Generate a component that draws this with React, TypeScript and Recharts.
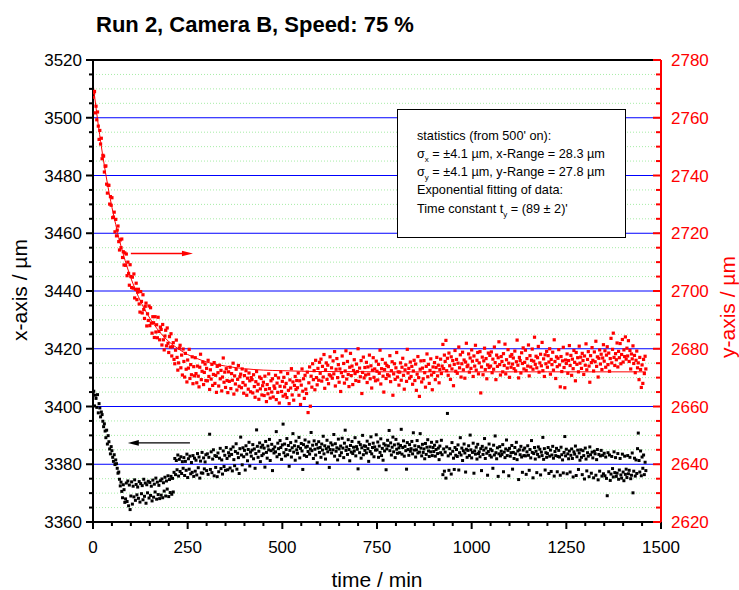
import React from 'react';
import { ComposedChart, Scatter, Line, XAxis, YAxis, ReferenceLine } from 'recharts';

const FONT = '"Liberation Sans", Arial, Helvetica, sans-serif';
const W = 739;
const H = 590;

// readings were logged every 2 minutes
const SAMPLE_STEP_MIN = 2;

// x position of the target (left axis), µm
const xPositionUm = [
  3404.6, 3405.3, 3400.2, 3403.9, 3402.8, 3399.7, 3404.1, 3397.8, 3401.0, 3399.5, 3396.4, 3398.1, 3397.2, 3394.9, 3393.0,
  3394.0, 3391.5, 3389.2, 3391.8, 3387.0, 3389.9, 3387.8, 3385.3, 3383.6, 3386.1, 3384.7, 3382.4, 3381.0, 3383.3, 3379.9,
  3381.5, 3380.2, 3378.6, 3376.9, 3377.3, 3374.8, 3372.5, 3373.8, 3370.6, 3368.4, 3372.9, 3371.2, 3366.8, 3368.0, 3373.5,
  3367.1, 3374.2, 3365.6, 3372.8, 3364.3, 3369.0, 3373.9, 3366.2, 3372.4, 3368.7, 3374.6, 3367.5, 3373.0, 3369.4, 3372.1,
  3368.2, 3374.0, 3366.9, 3373.3, 3369.8, 3372.6, 3367.7, 3374.8, 3368.9, 3373.5, 3366.5, 3372.9, 3370.1, 3374.1, 3368.3,
  3373.7, 3369.2, 3372.4, 3367.3, 3374.5, 3368.6, 3373.1, 3370.4, 3375.2, 3367.9, 3373.8, 3369.5, 3372.7, 3368.1, 3374.3,
  3369.3, 3374.9, 3368.4, 3373.6, 3370.7, 3375.5, 3369.0, 3374.2, 3371.4, 3376.0, 3368.8, 3374.7, 3370.2, 3375.8, 3369.6,
  3375.1, 3370.4, 3377.2, 3382.0, 3376.4, 3381.3, 3378.1, 3383.2, 3375.9, 3381.7, 3377.5, 3382.6, 3376.8, 3380.9, 3378.6,
  3382.3, 3376.1, 3381.0, 3377.9, 3383.5, 3375.4, 3381.9, 3378.3, 3382.8, 3376.7, 3380.6, 3377.2, 3383.0, 3375.8, 3382.1,
  3377.6, 3381.4, 3376.3, 3383.7, 3378.8, 3382.5, 3375.2, 3381.1, 3377.0, 3384.1, 3376.9, 3382.2, 3378.4, 3380.8, 3383.3,
  3377.8, 3383.6, 3376.5, 3382.4, 3390.4, 3378.2, 3384.3, 3377.1, 3381.8, 3385.0, 3376.0, 3383.0, 3378.9, 3382.7, 3375.7,
  3383.9, 3377.4, 3382.1, 3385.5, 3378.5, 3381.5, 3376.6, 3384.6, 3379.2, 3383.1, 3377.9, 3385.8, 3382.0, 3378.1, 3384.0,
  3382.9, 3378.7, 3385.2, 3383.4, 3377.7, 3386.0, 3381.6, 3379.5, 3384.4, 3387.1, 3378.3, 3383.8, 3382.3, 3376.8, 3385.4,
  3389.4, 3383.2, 3379.8, 3385.7, 3382.6, 3384.8, 3378.0, 3386.4, 3383.5, 3381.2, 3385.1, 3387.6, 3379.4, 3384.2, 3382.8,
  3384.9, 3386.8, 3381.9, 3385.3, 3378.6, 3383.7, 3391.9, 3386.2, 3382.4, 3384.5, 3387.4, 3380.9, 3385.9, 3383.0, 3386.6,
  3383.6, 3385.6, 3379.0, 3387.9, 3384.1, 3382.1, 3386.3, 3385.0, 3388.6, 3381.3, 3384.7, 3386.9, 3377.8, 3385.2, 3383.9,
  3386.0, 3384.3, 3391.3, 3382.6, 3387.3, 3385.4, 3383.4, 3388.2, 3385.8, 3381.7, 3386.7, 3393.9, 3384.0, 3387.0, 3382.9,
  3385.1, 3388.9, 3383.3, 3386.5, 3379.3, 3384.8, 3387.5, 3382.5, 3385.7, 3390.6, 3384.2, 3386.4, 3381.4, 3388.0, 3385.0,
  3383.8, 3386.1, 3389.3, 3382.2, 3385.5, 3387.2, 3384.6, 3378.2, 3386.8, 3383.1, 3388.4, 3385.9, 3382.7, 3386.2, 3384.4,
  3387.7, 3383.5, 3385.3, 3391.0, 3384.7, 3386.6, 3382.0, 3388.1, 3385.2, 3383.2, 3386.9, 3380.5, 3385.6, 3387.8, 3384.1,
  3385.8, 3382.4, 3387.0, 3384.9, 3389.7, 3383.6, 3386.4, 3381.8, 3385.4, 3388.3, 3384.3, 3386.0, 3378.9, 3385.1, 3387.4,
  3383.9, 3386.7, 3385.0, 3390.3, 3382.8, 3387.1, 3384.5, 3385.7, 3381.5, 3388.7, 3385.3, 3383.0, 3386.3, 3384.0, 3389.0,
  3385.6, 3382.3, 3387.3, 3391.8, 3384.8, 3386.0, 3383.4, 3388.5, 3385.1, 3381.2, 3386.5, 3384.2, 3387.9, 3383.7, 3385.9,
  3384.6, 3389.2, 3382.9, 3386.1, 3385.2, 3378.4, 3387.6, 3384.0, 3386.8, 3382.1, 3385.7, 3390.0, 3383.3, 3386.4, 3384.8,
  3386.2, 3383.9, 3388.0, 3385.4, 3381.0, 3386.9, 3384.4, 3389.5, 3383.6, 3385.8, 3387.3, 3382.6, 3386.0, 3384.9, 3390.2,
  3385.0, 3387.7, 3382.4, 3386.3, 3384.1, 3388.8, 3383.0, 3385.5, 3381.4, 3387.1, 3384.6, 3386.6, 3378.1, 3385.3, 3388.3,
  3386.4, 3391.7, 3384.7, 3387.4, 3383.2, 3385.9, 3389.4, 3384.3, 3386.7, 3382.3, 3388.6, 3385.2, 3383.8, 3387.0, 3385.7,
  3384.0, 3386.5, 3392.1, 3383.5, 3385.8, 3388.1, 3382.8, 3386.2, 3384.7, 3378.3, 3387.5, 3385.1, 3383.1, 3386.8, 3384.5,
  3385.4, 3387.9, 3383.6, 3390.9, 3384.9, 3386.4, 3382.5, 3385.0, 3388.2, 3383.9, 3386.1, 3384.2, 3390.6, 3385.6, 3382.9,
  3386.9, 3384.1, 3385.3, 3381.9, 3387.2, 3383.4, 3385.9, 3388.5, 3384.6, 3382.7, 3386.0, 3384.3, 3387.6, 3383.0, 3385.8,
  3384.4, 3386.6, 3382.8, 3385.1, 3387.8, 3383.7, 3385.6, 3381.6, 3386.3, 3384.0, 3388.3, 3383.3, 3376.4, 3385.3, 3377.6,
  3384.2, 3375.2, 3386.0, 3397.6, 3382.9, 3377.9, 3385.4, 3383.6, 3376.6, 3387.5, 3384.5, 3382.1, 3378.2, 3385.8, 3383.1,
  3385.1, 3382.7, 3386.7, 3378.0, 3384.0, 3389.2, 3383.2, 3385.6, 3381.3, 3384.7, 3387.0, 3383.9, 3377.3, 3385.2, 3382.4,
  3384.8, 3386.4, 3383.0, 3390.1, 3385.0, 3382.2, 3384.1, 3387.3, 3376.9, 3384.6, 3383.5, 3385.9, 3381.8, 3386.9, 3383.7,
  3384.3, 3382.6, 3385.4, 3377.8, 3386.2, 3383.4, 3384.9, 3388.9, 3382.0, 3385.6, 3383.8, 3376.2, 3384.4, 3387.0, 3383.1,
  3385.2, 3382.5, 3384.7, 3378.6, 3386.6, 3383.2, 3389.8, 3384.0, 3381.9, 3385.7, 3375.8, 3383.6, 3386.1, 3382.9, 3384.5,
  3383.4, 3386.8, 3377.4, 3384.2, 3382.3, 3385.3, 3388.4, 3383.0, 3384.8, 3376.0, 3385.5, 3382.8, 3384.0, 3386.5, 3378.3,
  3384.1, 3382.0, 3385.8, 3383.6, 3387.6, 3381.6, 3384.6, 3374.7, 3385.0, 3383.3, 3386.2, 3382.5, 3377.2, 3384.9, 3383.0,
  3385.6, 3382.9, 3376.5, 3384.3, 3386.4, 3383.1, 3377.9, 3385.1, 3382.2, 3388.2, 3384.1, 3375.3, 3383.7, 3385.8, 3381.8,
  3384.5, 3377.1, 3383.4, 3386.0, 3382.6, 3385.2, 3376.3, 3384.2, 3383.0, 3389.3, 3381.7, 3385.4, 3378.0, 3384.0, 3382.4,
  3383.7, 3385.8, 3376.8, 3382.8, 3384.9, 3377.5, 3383.2, 3386.2, 3382.1, 3375.9, 3384.4, 3383.0, 3385.5, 3377.4, 3382.7,
  3384.8, 3382.5, 3376.2, 3385.9, 3383.3, 3381.5, 3377.0, 3384.1, 3389.6, 3382.9, 3385.2, 3376.7, 3383.6, 3381.9, 3384.6,
  3377.3, 3383.1, 3385.3, 3382.0, 3375.6, 3384.3, 3383.5, 3386.3, 3376.1, 3382.6, 3384.9, 3378.2, 3383.9, 3381.4, 3385.0,
  3382.4, 3376.4, 3384.7, 3383.0, 3374.9, 3385.6, 3381.8, 3377.7, 3384.0, 3382.8, 3375.7, 3386.0, 3383.3, 3376.9, 3384.2,
  3382.2, 3375.3, 3384.5, 3383.6, 3376.2, 3381.6, 3385.1, 3374.6, 3383.4, 3377.6, 3382.9, 3384.8, 3375.9, 3383.1, 3376.7,
  3383.8, 3376.0, 3382.5, 3375.1, 3369.1, 3384.0, 3377.4, 3383.2, 3374.4, 3376.6, 3382.7, 3378.5, 3375.6, 3384.3, 3377.1,
  3382.3, 3375.8, 3376.9, 3383.7, 3374.8, 3378.0, 3382.0, 3376.3, 3375.2, 3383.5, 3377.3, 3374.3, 3382.8, 3376.5, 3378.3,
  3375.4, 3383.0, 3376.7, 3377.9, 3382.4, 3375.0, 3376.2, 3383.9, 3370.1, 3377.6, 3382.1, 3375.9, 3381.5, 3376.8, 3385.4,
  3390.8, 3381.3, 3377.3, 3384.6, 3376.0, 3382.5, 3378.6, 3383.2, 3376.4, 3380.7, 3377.8,
];

// y position of the target (right axis), µm
const yPositionUm = [
  2767.1, 2768.6, 2769.1, 2761.7, 2764.0, 2759.3, 2762.0, 2757.1, 2752.5, 2755.6, 2750.9, 2752.9, 2745.8, 2747.0, 2746.7,
  2741.2, 2743.2, 2743.3, 2737.0, 2733.9, 2736.6, 2736.6, 2730.1, 2732.7, 2729.7, 2732.3, 2725.4, 2725.6, 2727.3, 2720.5,
  2724.8, 2719.1, 2721.1, 2722.5, 2717.1, 2714.2, 2717.7, 2715.0, 2718.0, 2711.6, 2713.6, 2709.0, 2713.2, 2708.9, 2712.8,
  2705.3, 2710.0, 2706.1, 2702.0, 2709.1, 2705.0, 2701.2, 2704.8, 2701.0, 2705.9, 2697.6, 2700.6, 2702.7, 2697.0, 2699.6,
  2700.6, 2695.5, 2692.7, 2699.8, 2696.4, 2692.4, 2698.7, 2693.6, 2690.5, 2694.7, 2695.8, 2687.9, 2692.1, 2689.8, 2694.8,
  2688.0, 2694.2, 2688.9, 2685.4, 2691.1, 2689.0, 2683.9, 2691.1, 2685.8, 2688.3, 2683.8, 2690.9, 2686.0, 2683.1, 2687.5,
  2686.7, 2681.3, 2688.4, 2683.1, 2679.6, 2684.4, 2686.4, 2681.0, 2687.2, 2681.9, 2678.7, 2684.2, 2680.6, 2685.2, 2677.5,
  2680.7, 2682.1, 2676.3, 2674.8, 2679.5, 2683.0, 2677.0, 2672.6, 2675.1, 2680.2, 2681.2, 2673.4, 2677.8, 2670.9, 2679.9,
  2675.6, 2670.2, 2678.4, 2672.9, 2668.5, 2676.1, 2673.3, 2679.8, 2669.7, 2674.5, 2671.0, 2677.2, 2667.9, 2673.8, 2670.6,
  2676.9, 2671.4, 2668.2, 2674.0, 2670.5, 2666.8, 2673.6, 2678.1, 2669.3, 2672.2, 2675.4, 2667.6, 2671.8, 2674.7, 2669.0,
  2673.2, 2668.9, 2676.0, 2670.4, 2665.9, 2672.7, 2669.5, 2674.6, 2667.3, 2671.1, 2675.2, 2668.0, 2670.8, 2664.9, 2673.9,
  2671.7, 2667.1, 2674.3, 2669.6, 2672.5, 2665.4, 2670.2, 2676.8, 2668.4, 2671.9, 2666.6, 2673.1, 2669.0, 2664.8, 2672.0,
  2668.7, 2673.6, 2666.2, 2671.4, 2669.1, 2675.0, 2664.3, 2670.6, 2667.8, 2672.9, 2665.7, 2669.4, 2674.2, 2667.0, 2670.3,
  2671.2, 2666.5, 2673.0, 2668.3, 2664.6, 2670.7, 2667.4, 2672.4, 2663.9, 2669.8, 2666.0, 2671.6, 2668.9, 2665.1, 2670.0,
  2669.3, 2664.7, 2671.0, 2666.9, 2663.2, 2668.6, 2672.1, 2665.4, 2667.7, 2662.5, 2670.2, 2666.1, 2669.7, 2664.0, 2667.2,
  2668.4, 2663.8, 2670.5, 2665.9, 2661.7, 2667.6, 2664.4, 2671.3, 2666.2, 2662.9, 2668.9, 2665.0, 2669.6, 2663.3, 2667.1,
  2666.3, 2670.8, 2662.4, 2668.1, 2664.9, 2669.9, 2661.2, 2667.0, 2672.0, 2665.2, 2668.7, 2663.6, 2670.1, 2666.8, 2664.2,
  2668.0, 2663.1, 2671.4, 2665.6, 2661.0, 2669.2, 2666.4, 2673.1, 2664.0, 2668.5, 2662.2, 2667.3, 2670.4, 2665.9, 2669.0,
  2666.5, 2671.6, 2663.9, 2668.9, 2660.7, 2667.4, 2673.0, 2665.3, 2669.6, 2662.8, 2670.8, 2666.0, 2664.5, 2671.9, 2657.9,
  2668.2, 2673.7, 2660.1, 2670.5, 2666.7, 2674.8, 2669.3, 2672.4, 2665.8, 2676.0, 2670.0, 2667.5, 2673.2, 2669.1, 2675.3,
  2671.5, 2676.4, 2668.8, 2673.9, 2670.2, 2678.0, 2666.3, 2672.7, 2675.1, 2669.4, 2674.3, 2667.9, 2671.0, 2677.2, 2670.6,
  2673.4, 2669.8, 2675.8, 2671.3, 2679.0, 2667.1, 2672.9, 2676.6, 2670.0, 2674.5, 2668.4, 2673.0, 2665.2, 2671.7, 2677.5,
  2670.4, 2674.9, 2668.1, 2672.3, 2679.3, 2669.5, 2675.6, 2671.1, 2666.9, 2673.6, 2678.4, 2670.7, 2674.0, 2667.6, 2672.5,
  2676.2, 2671.4, 2669.0, 2674.7, 2672.1, 2680.0, 2668.7, 2673.3, 2670.3, 2675.9, 2664.5, 2671.8, 2677.1, 2669.9, 2673.5,
  2670.9, 2675.3, 2668.3, 2673.7, 2671.2, 2677.8, 2669.6, 2674.1, 2666.4, 2672.6, 2676.9, 2670.1, 2673.0, 2668.9, 2675.7,
  2672.2, 2669.2, 2674.6, 2671.5, 2679.5, 2667.8, 2673.1, 2676.3, 2670.5, 2665.0, 2672.8, 2675.0, 2669.7, 2674.2, 2671.0,
  2673.8, 2670.6, 2677.6, 2668.6, 2672.4, 2675.5, 2663.9, 2671.3, 2674.8, 2669.4, 2673.4, 2678.7, 2670.2, 2672.0, 2667.4,
  2671.9, 2675.1, 2669.1, 2673.6, 2676.7, 2670.8, 2666.0, 2672.7, 2674.4, 2668.7, 2679.8, 2671.6, 2673.2, 2669.8, 2675.4,
  2670.4, 2673.9, 2667.7, 2672.3, 2676.0, 2669.0, 2674.7, 2665.6, 2671.2, 2677.3, 2670.0, 2663.5, 2672.9, 2675.8, 2668.5,
  2673.3, 2669.6, 2675.9, 2671.7, 2666.7, 2673.9, 2678.2, 2670.3, 2674.6, 2668.0, 2672.5, 2676.5, 2670.9, 2665.8, 2673.7,
  2671.8, 2675.2, 2669.3, 2673.5, 2677.0, 2670.6, 2674.3, 2668.2, 2672.8, 2676.4, 2671.4, 2674.0, 2681.5, 2673.1, 2677.8,
  2675.6, 2682.9, 2672.4, 2676.7, 2670.8, 2678.5, 2674.1, 2669.4, 2677.2, 2673.0, 2675.9, 2667.2, 2674.6, 2679.4, 2672.2,
  2676.3, 2671.5, 2675.0, 2680.6, 2673.4, 2677.9, 2670.2, 2674.8, 2678.8, 2672.7, 2676.1, 2669.8, 2675.4, 2681.9, 2673.8,
  2674.3, 2678.2, 2671.9, 2676.8, 2673.2, 2679.6, 2675.7, 2670.4, 2677.5, 2674.0, 2681.2, 2672.6, 2676.0, 2678.7, 2671.3,
  2675.1, 2679.0, 2664.7, 2673.7, 2677.1, 2671.0, 2675.8, 2680.2, 2672.8, 2676.6, 2669.6, 2674.4, 2678.5, 2673.5, 2677.7,
  2674.0, 2678.9, 2671.7, 2676.4, 2672.9, 2680.6, 2675.2, 2669.3, 2677.8, 2673.9, 2676.9, 2682.4, 2674.5, 2670.9, 2677.3,
  2675.6, 2672.0, 2678.3, 2674.2, 2681.6, 2671.3, 2676.2, 2673.3, 2679.7, 2675.0, 2670.1, 2677.4, 2673.6, 2678.0, 2674.7,
  2676.8, 2673.1, 2679.2, 2672.3, 2675.5, 2683.0, 2674.3, 2669.9, 2677.0, 2675.9, 2671.6, 2678.6, 2674.9, 2680.3, 2673.0,
  2675.3, 2679.5, 2672.5, 2676.6, 2674.0, 2681.3, 2670.6, 2677.6, 2673.7, 2676.0, 2679.9, 2672.9, 2675.7, 2684.0, 2674.6,
  2677.4, 2673.4, 2676.9, 2680.8, 2671.9, 2675.1, 2678.1, 2674.1, 2682.2, 2672.4, 2676.5, 2670.4, 2677.9, 2674.8, 2679.1,
  2673.6, 2677.6, 2675.4, 2680.0, 2671.2, 2676.3, 2674.5, 2678.8, 2672.6, 2683.1, 2675.6, 2669.7, 2677.2, 2673.8, 2676.7,
  2679.7, 2674.4, 2666.8, 2677.3, 2672.1, 2675.8, 2680.5, 2673.5, 2666.5, 2676.1, 2674.9, 2678.2, 2671.5, 2675.9, 2681.1,
  2674.2, 2677.7, 2670.8, 2676.4, 2673.1, 2679.4, 2675.3, 2668.9, 2678.7, 2674.6, 2676.9, 2672.0, 2680.9, 2675.0, 2677.1,
  2673.2, 2678.4, 2675.9, 2671.1, 2677.5, 2674.3, 2681.7, 2672.7, 2676.3, 2679.0, 2674.0, 2668.4, 2677.6, 2675.2, 2680.4,
  2676.0, 2672.3, 2678.9, 2675.5, 2682.6, 2673.9, 2677.2, 2670.2, 2676.7, 2679.6, 2674.7, 2678.1, 2672.8, 2676.8, 2681.4,
  2675.7, 2679.3, 2673.6, 2677.8, 2680.7, 2674.5, 2678.5, 2672.2, 2676.6, 2683.6, 2675.1, 2679.8, 2685.4, 2677.0, 2674.2,
  2678.3, 2676.2, 2682.0, 2673.7, 2679.1, 2676.9, 2681.8, 2674.8, 2678.0, 2683.2, 2675.4, 2679.6, 2677.3, 2684.1, 2676.4,
  2680.2, 2677.5, 2682.8, 2675.6, 2679.4, 2673.0, 2678.2, 2676.5, 2681.0, 2674.9, 2677.7, 2671.7, 2676.0, 2679.2, 2673.4,
  2675.1, 2669.3, 2677.0, 2672.8, 2666.6, 2674.4, 2668.0, 2676.3, 2671.4, 2677.4, 2673.0,
];

// exponential fit of the y position (t = 89 min)
const fitTimeMin = [0, 10, 20, 30, 40, 50, 60, 70, 80, 90, 100, 110, 120, 140, 160, 180, 200, 225, 250, 275, 300, 350, 400, 450, 500, 600, 800, 1000, 1200, 1460];
const fitYUm = [2772.0, 2761.4, 2751.9, 2743.4, 2735.8, 2729.0, 2723.0, 2717.5, 2712.7, 2708.4, 2704.5, 2701.1, 2698.0, 2692.8, 2688.6, 2685.2, 2682.5, 2680.0, 2678.0, 2676.6, 2675.4, 2674.0, 2673.1, 2672.6, 2672.4, 2672.1, 2672.0, 2672.0, 2672.0, 2672.0];

// axis scales
const timeTicks = [0, 250, 500, 750, 1000, 1250, 1500];
const xAxisTicks = [3360, 3380, 3400, 3420, 3440, 3460, 3480, 3500, 3520];
const yAxisTicks = [2620, 2640, 2660, 2680, 2700, 2720, 2740, 2760, 2780];

// arrows pointing each cloud at its axis
const yArrow = { from: 100, to: 264, at: 2713 };
const xArrow = { from: 256, to: 92, at: 3387.4 };

const xSeries = xPositionUm.map((v, i) => ({ t: i * SAMPLE_STEP_MIN, v }));
const ySeries = yPositionUm.map((v, i) => ({ t: i * SAMPLE_STEP_MIN, v }));
const fitSeries = fitTimeMin.map((t, i) => ({ t, v: fitYUm[i] }));

// fill in minor ticks between the labelled ones
const withMinor = (major: number[], parts: number) => {
  const out: number[] = [];
  for (let i = 0; i < major.length - 1; i++) {
    const step = (major[i + 1] - major[i]) / parts;
    for (let k = 0; k < parts; k++) out.push(major[i] + k * step);
  }
  out.push(major[major.length - 1]);
  return out;
};

const timeAll = withMinor(timeTicks, 5);
const xAll = withMinor(xAxisTicks, 4);
const yAll = withMinor(yAxisTicks, 4);
const blueLines = xAxisTicks.slice(1, -1);
const dottedLines = xAll.filter((v) => !xAxisTicks.includes(v));

const LeftTick = (props: any) => {
  const { x, y, payload } = props;
  const major = xAxisTicks.includes(payload.value);
  return (
    <g>
      <line x1={x} x2={x - (major ? 7 : 4)} y1={y} y2={y} stroke="#000" strokeWidth={2} />
      {major && (
        <text x={x - 11} y={y + 6} textAnchor="end" fontSize={17} fontFamily={FONT} fill="#000">
          {payload.value}
        </text>
      )}
    </g>
  );
};

const RightTick = (props: any) => {
  const { x, y, payload } = props;
  const major = yAxisTicks.includes(payload.value);
  return (
    <g>
      <line x1={x} x2={x - (major ? 8 : 5)} y1={y} y2={y} stroke="#ff0000" strokeWidth={2} />
      {major && (
        <text x={x + 10} y={y + 6} textAnchor="start" fontSize={17} fontFamily={FONT} fill="#ff0000">
          {payload.value}
        </text>
      )}
    </g>
  );
};

const BottomTick = (props: any) => {
  const { x, y, payload } = props;
  const major = timeTicks.includes(payload.value);
  return (
    <g>
      <line x1={x} x2={x} y1={y} y2={y + (major ? 7 : 4)} stroke="#000" strokeWidth={2} />
      {major && (
        <text x={x} y={y + 31} textAnchor="middle" fontSize={17} fontFamily={FONT} fill="#000">
          {payload.value}
        </text>
      )}
    </g>
  );
};

const Arrow = (props: any) => {
  const { x1, y1, x2, y2, color } = props;
  const dir = x2 > x1 ? 1 : -1;
  return (
    <g>
      <line x1={x1} y1={y1} x2={x2 - dir * 6} y2={y2} stroke={color} strokeWidth={1.4} />
      <polygon points={`${x2},${y2} ${x2 - dir * 11},${y2 - 2.8} ${x2 - dir * 11},${y2 + 2.8}`} fill={color} />
    </g>
  );
};

const RedDot = (p: any) => <rect x={p.cx - 1.6} y={p.cy - 1.6} width={3.2} height={3.2} fill="#ff0000" />;
const BlackDot = (p: any) => <rect x={p.cx - 1.5} y={p.cy - 1.5} width={3} height={3} fill="#000" />;

export default function App() {
  return (
    <div style={{ position: 'absolute', left: 0, top: 0, width: W, height: H, background: '#fff' }}>
      <ComposedChart width={W} height={H} margin={{ top: 60, right: 18, bottom: 0, left: 33 }}>
        <XAxis
          type="number"
          dataKey="t"
          domain={[0, 1500]}
          ticks={timeAll}
          interval={0}
          allowDataOverflow
          height={68}
          tickSize={0}
          tickMargin={0}
          tickLine={false}
          axisLine={{ stroke: '#000', strokeWidth: 2 }}
          tick={<BottomTick />}
        />
        <YAxis
          yAxisId="left"
          type="number"
          domain={[3360, 3520]}
          ticks={xAll}
          interval={0}
          allowDataOverflow
          width={60}
          tickSize={0}
          tickMargin={0}
          tickLine={false}
          axisLine={{ stroke: '#000', strokeWidth: 2 }}
          tick={<LeftTick />}
        />
        <YAxis
          yAxisId="right"
          orientation="right"
          type="number"
          domain={[2620, 2780]}
          ticks={yAll}
          interval={0}
          allowDataOverflow
          width={60}
          tickSize={0}
          tickMargin={0}
          tickLine={false}
          axisLine={{ stroke: '#ff0000', strokeWidth: 2 }}
          tick={<RightTick />}
        />

        {dottedLines.map((v) => (
          <ReferenceLine key={`d${v}`} yAxisId="left" y={v} stroke="#a6eca6" strokeWidth={1} strokeDasharray="1 2" />
        ))}
        {blueLines.map((v) => (
          <ReferenceLine key={`b${v}`} yAxisId="left" y={v} stroke="#0000ff" strokeWidth={1} />
        ))}
        <ReferenceLine yAxisId="left" y={3520} stroke="#000" strokeWidth={2} />

        <Scatter data={xSeries} dataKey="v" yAxisId="left" shape={BlackDot} isAnimationActive={false} />
        <Scatter data={ySeries} dataKey="v" yAxisId="right" shape={RedDot} isAnimationActive={false} />
        <Line
          data={fitSeries}
          dataKey="v"
          yAxisId="right"
          type="monotone"
          stroke="#ff0000"
          strokeWidth={1}
          dot={false}
          activeDot={false}
          isAnimationActive={false}
        />

        <ReferenceLine
          yAxisId="right"
          segment={[{ x: yArrow.from, y: yArrow.at }, { x: yArrow.to, y: yArrow.at }]}
          shape={(p: any) => <Arrow {...p} color="#ff0000" />}
        />
        <ReferenceLine
          yAxisId="left"
          segment={[{ x: xArrow.from, y: xArrow.at }, { x: xArrow.to, y: xArrow.at }]}
          shape={(p: any) => <Arrow {...p} color="#000" />}
        />
      </ComposedChart>

      <svg
        width={W}
        height={H}
        style={{ position: 'absolute', left: 0, top: 0, pointerEvents: 'none' }}
        fontFamily={FONT}
      >
        <text x={96} y={32} fontSize={22} fontWeight="bold" fill="#000">
          Run 2, Camera B, Speed: 75 %
        </text>
        <text x={27} y={290} fontSize={21} textAnchor="middle" transform="rotate(-90 27 290)" fill="#000">
          x-axis / µm
        </text>
        <text x={735} y={307} fontSize={21} textAnchor="middle" transform="rotate(-90 735 307)" fill="#ff0000">
          y-axis / µm
        </text>
        <text x={377} y={587} fontSize={21} textAnchor="middle" fill="#000">
          time / min
        </text>

        <rect x={397.5} y={109.5} width={228} height={128} fill="#fff" stroke="#000" strokeWidth={1} />
        <g fontSize={12.7} fill="#000">
          <text x={417} y={140}>statistics (from 500' on):</text>
          <text x={417} y={158}>
            σ<tspan fontSize={8} dy={4}>x</tspan>
            <tspan dy={-4}> = ±4.1 µm, x-Range = 28.3 µm</tspan>
          </text>
          <text x={417} y={176}>
            σ<tspan fontSize={8} dy={4}>y</tspan>
            <tspan dy={-4}> = ±4.1 µm, y-Range = 27.8 µm</tspan>
          </text>
          <text x={417} y={194}>Exponential fitting of data:</text>
          <text x={417} y={212.5}>
            Time constant t<tspan fontSize={8} dy={4}>y</tspan>
            <tspan dy={-4}> = (89 ± 2)'</tspan>
          </text>
        </g>
      </svg>
    </div>
  );
}
